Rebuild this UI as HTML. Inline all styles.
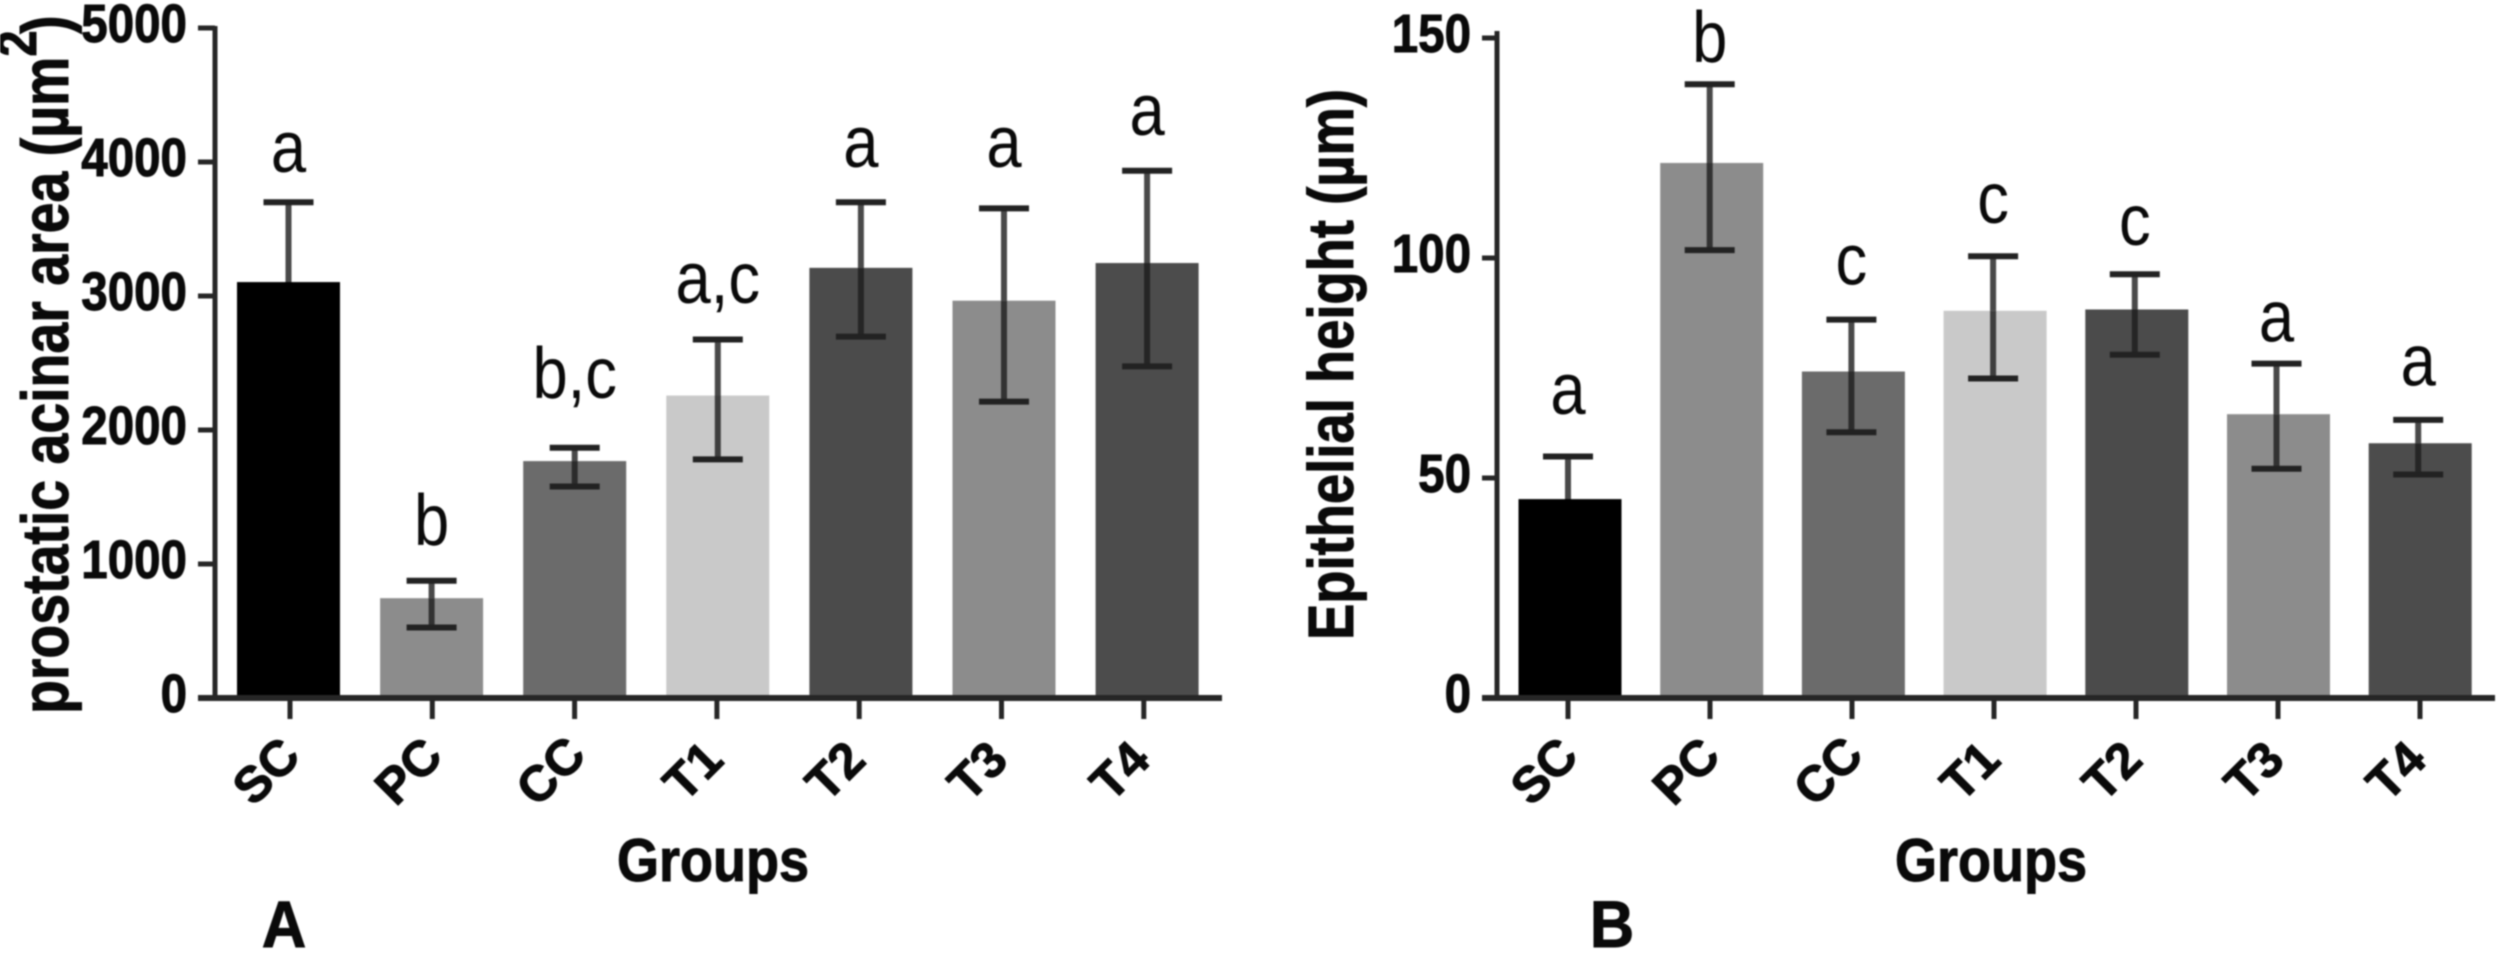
<!DOCTYPE html>
<html lang="en">
<head>
<meta charset="utf-8">
<title>Prostatic acinar area and epithelial height by group</title>
<style>
html,body{margin:0;padding:0;background:#fff;width:2500px;height:953px;overflow:hidden}
svg{display:block;filter:blur(0.9px)}
text{font-family:"Liberation Sans",sans-serif;fill:#0a0a0a}
text[font-weight="700"]{stroke:#0a0a0a;stroke-width:1}
</style>
</head>
<body>
<svg id="chart" xmlns="http://www.w3.org/2000/svg" width="2500" height="953" viewBox="0 0 2500 953"></svg>
<script>
const categories = ['SC', 'PC', 'CC', 'T1', 'T2', 'T3', 'T4'];
const barGrays = ['#000000', '#8c8c8c', '#6b6b6b', '#c9c9c9', '#4b4b4b', '#8c8c8c', '#4c4c4c'];

const areaMeans = [3104, 745, 1768, 2257, 3210, 2965, 3246];
const areaHigh = [3700, 875, 1868, 2675, 3700, 3654, 3935];
const areaLow = [2510, 526, 1578, 1781, 2697, 2212, 2475];
const areaLetters = ['a', 'b', 'b,c', 'a,c', 'a', 'a', 'a'];
const areaLetterHeights = [3925, 1142, 2239, 2948, 3963, 3963, 4201];
const areaTicks = [0, 1000, 2000, 3000, 4000, 5000];

const heightMeans = [45.2, 121.6, 74.2, 88, 88.3, 64.5, 57.9];
const heightHigh = [54.9, 139.5, 86, 100.4, 96.3, 76, 63.2];
const heightLow = [35.5, 101.8, 60.4, 72.6, 78, 52.1, 50.8];
const heightLetters = ['a', 'b', 'c', 'c', 'c', 'a', 'a'];
const heightLetterHeights = [64.5, 144.5, 94, 108, 103, 81, 71];
const heightTicks = [0, 50, 100, 150];

const svg = document.getElementById('chart');
const NS = 'http://www.w3.org/2000/svg';

function shape(tag, attrs, name) {
  const el = document.createElementNS(NS, tag);
  for (const k in attrs) el.setAttribute(k, attrs[k]);
  
  
  svg.appendChild(el);
  return el;
}
function line(x1, y1, x2, y2, stroke, width, name, opacity) {
  const el = shape('line', {x1: x1, y1: y1, x2: x2, y2: y2, stroke: stroke, 'stroke-width': width}, name);
  if (opacity) el.setAttribute('opacity', opacity);
  return el;
}
function label(x, y, str, size, weight, sx, rot, anchor, name) {
  const el = shape('text', {
    transform: 'translate(' + x + ' ' + y + ') rotate(' + rot + ') scale(' + sx + ' 1)',
    'font-size': size, 'font-weight': weight, 'text-anchor': anchor
  }, name);
  el.textContent = str;
  return el;
}

function drawPanel(p) {
  const yScale = v => p.y0 - v * p.k;
  const xBar = i => p.barStart + p.barStep * i;
  const xTick = i => p.tickStart + p.tickStep * i;

  p.means.forEach((m, i) => {
    shape('rect', {x: xBar(i) - 51.5, y: yScale(m), width: 103, height: p.y0 - yScale(m), fill: barGrays[i]}, p.id + '-bar-' + categories[i].toLowerCase());
  });
  p.means.forEach((m, i) => {
    const c = xBar(i) + p.errShift, key = p.id + '-error-bar-' + categories[i].toLowerCase();
    const onBlack = barGrays[i] === '#000000';
    line(c, yScale(p.high[i]), c, yScale(m), '#1c1c1c', 6, key + '-upper-stem', 0.8);
    line(c, yScale(m), c, yScale(p.low[i]), onBlack ? '#000' : '#1c1c1c', 6, key + '-lower-stem', onBlack ? 1 : 0.8);
    line(c - 25, yScale(p.high[i]), c + 25, yScale(p.high[i]), '#222', 6, key + '-upper-cap');
    line(c - 25, yScale(p.low[i]), c + 25, yScale(p.low[i]), onBlack ? '#000' : '#222', 6, key + '-lower-cap');
    label(xBar(i) + p.errShift, yScale(p.letterHeights[i]), p.letters[i], 72, 400, 0.88, 0, 'middle', p.id + '-significance-' + categories[i].toLowerCase());
  });

  line(p.axisX, p.axisTop, p.axisX, p.y0 + 3, '#262626', 5, p.id + '-y-axis');
  line(p.tickLeft, p.y0, p.axisEnd, p.y0, '#262626', 6, p.id + '-x-axis');

  p.ticks.forEach(t => {
    line(p.tickLeft, yScale(t), p.axisX, yScale(t), '#262626', 5, p.id + '-y-tick-' + t);
    label(p.tickLeft - 11, yScale(t) + 14, String(t), 54, 700, 0.88, 0, 'end', p.id + '-y-tick-label-' + t);
  });
  categories.forEach((c, i) => {
    line(xTick(i), p.y0, xTick(i), p.y0 + 21, '#262626', 5, p.id + '-x-tick-' + c.toLowerCase());
    label(xTick(i) - 12, 783, c, 50, 700, 1, -45, 'middle', p.id + '-x-tick-label-' + c.toLowerCase());
  });
  label(p.groupsX, 881, 'Groups', 60, 700, 0.9, 0, 'middle', p.id + '-x-axis-title');
  label(p.panelX, 947, p.panel, 66, 700, 0.93, 0, 'middle', p.id + '-panel-letter');
}

drawPanel({
  id: 'panel-a', panel: 'A', panelX: 284, groupsX: 713,
  means: areaMeans, high: areaHigh, low: areaLow,
  letters: areaLetters, letterHeights: areaLetterHeights, ticks: areaTicks,
  y0: 698, k: 0.134, axisX: 215, axisTop: 26, axisEnd: 1222, tickLeft: 198,
  barStart: 288.5, barStep: 143.1, tickStart: 290, tickStep: 142.3, errShift: 0
});
drawPanel({
  id: 'panel-b', panel: 'B', panelX: 1612, groupsX: 1991,
  means: heightMeans, high: heightHigh, low: heightLow,
  letters: heightLetters, letterHeights: heightLetterHeights, ticks: heightTicks,
  y0: 698, k: 4.4, axisX: 1497, axisTop: 31, axisEnd: 2495, tickLeft: 1482,
  barStart: 1570, barStep: 141.7, tickStart: 1568, tickStep: 142, errShift: -2
});

const titleA = shape('text', {transform: 'translate(68 714) rotate(-90) scale(0.84 1)', 'font-size': 66, 'font-weight': 700}, 'panel-a-y-axis-title');
titleA.innerHTML = 'prostatic acinar area (µm<tspan font-size="56" dy="-32">2</tspan><tspan dy="32" dx="-4">)</tspan>';

const titleB = shape('text', {transform: 'translate(1353 640) rotate(-90) scale(0.85 1)', 'font-size': 64, 'font-weight': 700}, 'panel-b-y-axis-title');
titleB.textContent = 'Epithelial height (µm)';
</script>
</body>
</html>
